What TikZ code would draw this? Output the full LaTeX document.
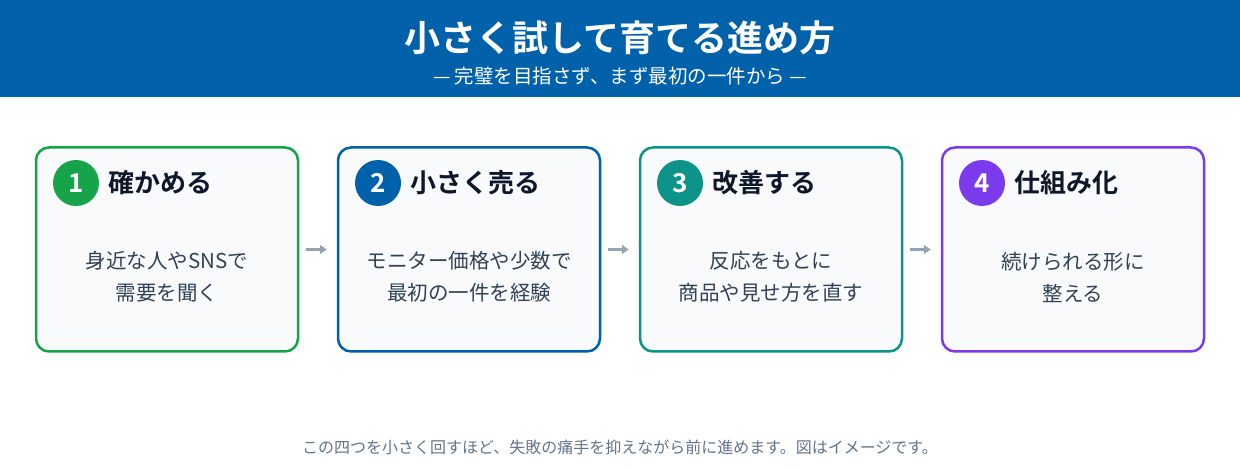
\documentclass[tikz,border=0pt]{standalone}
\usepackage{fontspec}
\setmainfont{Noto Sans CJK JP}[BoldFont={Noto Sans CJK JP Bold}]
\usetikzlibrary{arrows.meta}
\definecolor{hdr}{HTML}{0061AB}
\definecolor{cgreen}{HTML}{16A34A}
\definecolor{cblue}{HTML}{0061AB}
\definecolor{cteal}{HTML}{0D9488}
\definecolor{cpurple}{HTML}{7C3AED}
\definecolor{boxfill}{HTML}{F8FAFC}
\definecolor{ttl}{HTML}{0F172A}
\definecolor{bodyc}{HTML}{334155}
\definecolor{footc}{HTML}{64748B}
\definecolor{arrc}{HTML}{94A3B8}
\tikzset{
  stepbox/.style={draw, line width=2.5pt, fill=boxfill, rounded corners=13pt,
    minimum width=262pt, minimum height=204pt, inner sep=0pt},
  numc/.style={circle, minimum size=46pt, inner sep=0pt, text=white,
    font=\bfseries\fontsize{26}{30}\selectfont},
  steptitle/.style={anchor=west, inner sep=0pt, text=ttl,
    font=\bfseries\fontsize{26}{30}\selectfont},
  bodytext/.style={align=center, inner sep=0pt, text=bodyc,
    font=\fontsize{20.5}{32}\selectfont},
  arr/.style={draw=arrc, line width=3pt, -{Triangle[length=7pt,width=9pt]}}
}
\begin{document}
\begin{tikzpicture}[x=1pt,y=-1pt]
\useasboundingbox (0,0) rectangle (1240,470);
\fill[white] (0,0) rectangle (1240,470);
\fill[hdr] (0,0) rectangle (1240,97);
\node[text=white, font=\bfseries\fontsize{36}{40}\selectfont] (title) at (620,38) {小さく試して育てる進め方};
\node[text=white, font=\fontsize{19.5}{22}\selectfont] (sub) at (620,76) {— 完璧を目指さず、まず最初の一件から —};

\node[stepbox, draw=cgreen] (b1) at (167,249.5) {};
\node[stepbox, draw=cblue] (b2) at (469,249.5) {};
\node[stepbox, draw=cteal] (b3) at (771,249.5) {};
\node[stepbox, draw=cpurple] (b4) at (1073,249.5) {};

\node[numc, fill=cgreen] (n1) at (76,183) {1};
\node[numc, fill=cblue] (n2) at (378,183) {2};
\node[numc, fill=cteal] (n3) at (680,183) {3};
\node[numc, fill=cpurple] (n4) at (982,183) {4};

\node[steptitle] (t1) at (108,183) {確かめる};
\node[steptitle] (t2) at (410,183) {小さく売る};
\node[steptitle] (t3) at (712,183) {改善する};
\node[steptitle] (t4) at (1014,183) {仕組み化};

\node[bodytext] (d1) at (167,277) {身近な人やSNSで\\需要を聞く};
\node[bodytext] (d2) at (469,277) {モニター価格や少数で\\最初の一件を経験};
\node[bodytext] (d3) at (771,277) {反応をもとに\\商品や見せ方を直す};
\node[bodytext] (d4) at (1073,277) {続けられる形に\\整える};

\draw[arr] ([xshift=7pt]b1.east) -- ([xshift=-10pt]b2.west);
\draw[arr] ([xshift=7pt]b2.east) -- ([xshift=-10pt]b3.west);
\draw[arr] ([xshift=7pt]b3.east) -- ([xshift=-10pt]b4.west);

\node[text=footc, font=\fontsize{16}{18}\selectfont] (foot) at (620,447) {この四つを小さく回すほど、失敗の痛手を抑えながら前に進めます。図はイメージです。};
\end{tikzpicture}
\end{document}
